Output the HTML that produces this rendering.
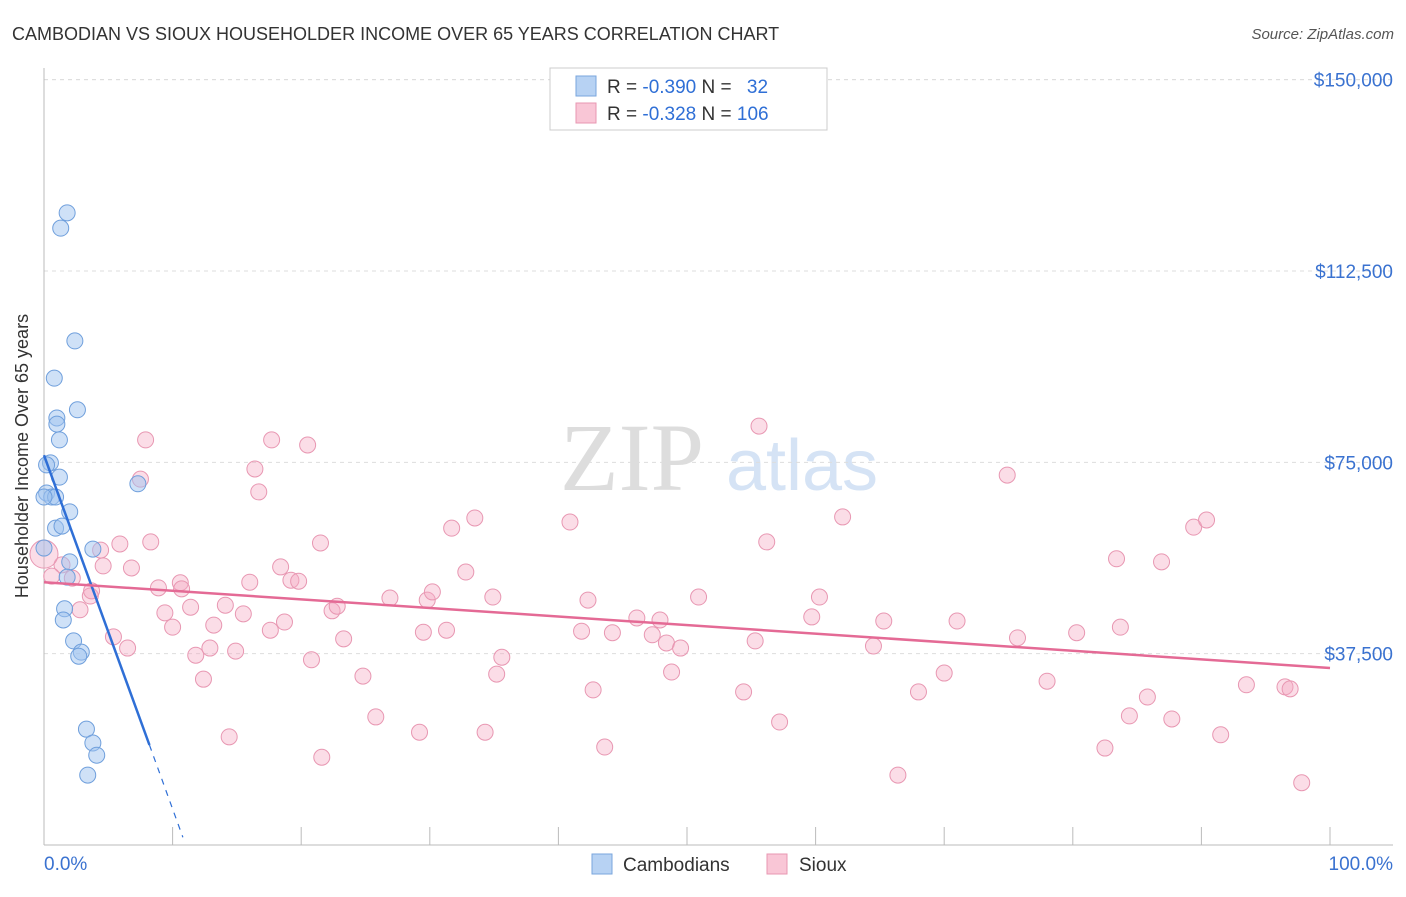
<!DOCTYPE html>
<html><head><meta charset="utf-8"><style>
body{margin:0;background:#fff;font-family:"Liberation Sans",sans-serif}
svg text{font-family:"Liberation Sans",sans-serif}
</style></head><body>
<svg id="c" width="1406" height="892" xmlns="http://www.w3.org/2000/svg">
<text x="12" y="40" font-size="18" fill="#333">CAMBODIAN VS SIOUX HOUSEHOLDER INCOME OVER 65 YEARS CORRELATION CHART</text>
<text x="1394" y="39" font-size="15" fill="#555" text-anchor="end" font-style="italic">Source: ZipAtlas.com</text>
<g>
<text x="632" y="490" font-size="96" fill="#ddd" text-anchor="middle" font-family="Liberation Serif" style="font-family:'Liberation Serif',serif">ZIP</text>
<text x="802" y="490" font-size="72" fill="#d5e3f5" text-anchor="middle">atlas</text>
</g>
<g id="grid"></g><g id="axes"></g><g id="pts"></g><g id="lines"></g>
<text x="28" y="456" font-size="18" fill="#333" text-anchor="middle" transform="rotate(-90 28 456)">Householder Income Over 65 years</text>
<g>
<rect x="550" y="68" width="277" height="62" fill="#fff" stroke="#ccc"/>
<rect x="576" y="76" width="20" height="20" fill="#b7d2f3" stroke="#7aa6dd"/>
<rect x="576" y="103" width="20" height="20" fill="#f9c6d6" stroke="#e897b2"/>
<text x="607" y="93" font-size="19" fill="#333">R = <tspan fill="#2f6fd6">-0.390</tspan>   N = <tspan fill="#2f6fd6" dx="10">32</tspan></text>
<text x="607" y="120" font-size="19" fill="#333">R = <tspan fill="#2f6fd6">-0.328</tspan>   N = <tspan fill="#2f6fd6">106</tspan></text>
</g>
<g>
<rect x="592" y="854" width="20" height="20" fill="#b7d2f3" stroke="#7aa6dd"/>
<text x="623" y="871" font-size="19" fill="#333">Cambodians</text>
<rect x="767" y="854" width="20" height="20" fill="#f9c6d6" stroke="#e897b2"/>
<text x="799" y="871" font-size="19" fill="#333">Sioux</text>
</g>
</svg>
<script>
const yTicks=[37500,75000,112500,150000];
const yTickLabels=["$37,500","$75,000","$112,500","$150,000"];
const xTickLabels=["0.0%","100.0%"];
const camX=[1.8,1.3,2.4,0.8,2.6,1.0,1.0,1.2,0.5,0.2,1.2,0.2,0.6,0.9,2.0,0.9,1.4,3.8,2.0,1.8,1.6,1.5,2.3,2.9,2.7,7.3,3.3,3.8,4.1,3.4,0,0];
const camY=[123900,120900,98800,91500,85300,83700,82500,79400,74900,74500,72100,69000,68200,68200,65300,62100,62500,58000,55500,52500,46300,44100,40000,37800,37000,70800,22700,20000,17600,13700,68200,58200];
const siouxX=[7.9,7.5,6.8,8.3,5.9,4.4,4.6,3.6,3.7,2.8,2.2,1.4,0.6,5.4,6.5,8.9,9.4,10.0,10.6,10.7,11.4,11.8,12.4,12.9,13.2,14.1,14.4,14.9,15.5,16.0,16.4,16.7,17.7,17.6,18.4,18.7,19.2,19.8,20.5,20.8,21.5,21.6,22.4,22.8,23.3,24.8,25.8,26.9,29.2,29.5,29.8,30.2,31.3,31.7,32.8,33.5,34.3,34.9,35.2,35.6,40.9,41.8,42.3,42.7,43.6,44.2,46.1,47.3,47.9,48.4,48.8,49.5,50.9,54.4,55.3,55.6,56.2,57.2,59.7,60.3,62.1,64.5,65.3,66.4,68.0,70.0,71.0,74.9,75.7,78.0,80.3,82.5,83.4,83.7,84.4,85.8,86.9,87.7,89.4,90.4,91.5,93.5,96.5,96.9,97.8,0];
const siouxY=[79400,71700,54300,59400,59000,57800,54700,48800,49800,46100,52300,54900,52700,40800,38600,50400,45500,42700,51400,50200,46600,37200,32500,38600,43100,47000,21200,38000,45300,51500,73700,69200,79400,42100,54500,43700,51900,51700,78400,36300,59200,17200,45900,46800,40400,33100,25100,48400,22100,41700,48000,49600,42100,62100,53500,64100,22100,48600,33500,36800,63300,41900,48000,30400,19200,41600,44500,41200,44100,39600,33900,38600,48600,30000,40000,82100,59400,24100,44700,48600,64300,39000,43900,13700,30000,33700,43900,72500,40600,32100,41600,19000,56100,42700,25300,29000,55500,24700,62300,63700,21600,31400,31000,30600,12200,57000];
const camLine=[[0,76400],[8.2,19600]];
const camDash=[[8.2,19600],[10.8,1500]];
const siouxLine=[[0,51500],[100,34700]];
const X0=44,X1=1330,Y0=845,YPER=191.33/37500;
const sx=v=>X0+(X1-X0)*v/100, sy=v=>Y0-v*YPER;
const NS="http://www.w3.org/2000/svg";
function mk(p,t,a){const e=document.createElementNS(NS,t);for(const k in a)e.setAttribute(k,a[k]);document.getElementById(p).appendChild(e);return e;}
yTicks.forEach((t,i)=>{
 const g=mk('grid','line',{x1:X0,x2:1393,y1:sy(t),y2:sy(t),stroke:'#ddd','stroke-dasharray':'4,4'});
 
 
 const l=mk('axes','text',{x:1393,y:sy(t)+7,'font-size':19,fill:'#3a72d0','text-anchor':'end'});l.textContent=yTickLabels[i];
 
 
});
const topg=mk('grid','line',{x1:X0,x2:1393,y1:sy(150000),y2:sy(150000),stroke:'#ddd','stroke-dasharray':'4,4'});
const ax=mk('axes','line',{x1:X0,x2:1393,y1:Y0,y2:Y0,stroke:'#bbb'});


const ay=mk('axes','line',{x1:X0,x2:X0,y1:68,y2:Y0,stroke:'#bbb'});


for(let i=0;i<=10;i++){const t=mk('axes','line',{x1:sx(i*10),x2:sx(i*10),y1:Y0,y2:Y0-18,stroke:'#bbb'});
 
 }
[[0,'start',X0],[1,'end',1393]].forEach(([i,a,x])=>{const l=mk('axes','text',{x:x,y:870,'font-size':19,fill:'#3a72d0','text-anchor':a});l.textContent=xTickLabels[i];
 
 });
siouxX.forEach((v,i)=>{const c=mk('pts','circle',{cx:sx(v),cy:sy(siouxY[i]),r:i==siouxX.length-1?14:8,fill:'rgba(245,170,196,0.4)',stroke:'#e897b2','stroke-width':1});
 
 });
camX.forEach((v,i)=>{const c=mk('pts','circle',{cx:sx(v),cy:sy(camY[i]),r:8,fill:'rgba(160,196,240,0.5)',stroke:'#6f9fdc','stroke-width':1});
 
 });
function ln(d,col,dash,name){const e=mk('lines','line',{x1:sx(d[0][0]),y1:sy(d[0][1]),x2:sx(d[1][0]),y2:sy(d[1][1]),stroke:col,'stroke-width':dash?1.2:2.5,'stroke-dasharray':dash||'none'});
 
 }
ln(camLine,'#2f6fd6',null,'cambodian-trend-line');
ln(camDash,'#2f6fd6','6,6','cambodian-trend-extension');
ln(siouxLine,'#e46a95',null,'sioux-trend-line');
</script>
</body></html>
